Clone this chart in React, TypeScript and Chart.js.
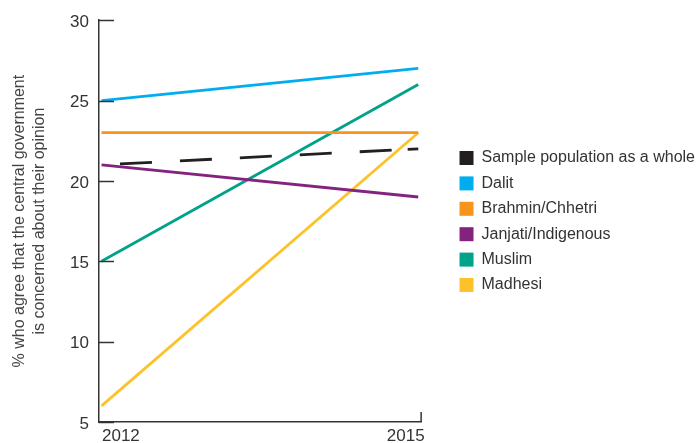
import React, { useEffect, useRef } from "react";
import { Chart, registerables } from "chart.js";

Chart.register(...registerables);

const years = [2012, 2015];
const seriesNames = [
  "Sample population as a whole",
  "Dalit",
  "Brahmin/Chhetri",
  "Janjati/Indigenous",
  "Muslim",
  "Madhesi",
];
const sampleValues = [21, 22];
const dalitValues = [25, 27];
const brahminValues = [23, 23];
const janjatiValues = [21, 19];
const muslimValues = [15, 26];
const madhesiValues = [6, 23];
const yTicks = [5, 10, 15, 20, 25, 30];
const colors = ["#231F20", "#00AEEF", "#F7941D", "#84237F", "#00A28A", "#FDC22A"];
const axisTitle = ["% who agree that the central government", "is concerned about their opinion"];

const FONT = "'Liberation Sans', Arial, sans-serif";
const TEXT = "#333333";

const innerTicks = {
  id: "innerTicks",
  afterLayout(chart: any) {
    const lg = chart.legend;
    if (lg) {
      lg.top -= 8;
      lg.bottom -= 8;
    }
  },
  afterDatasetsDraw(chart: any) {
    const { ctx, chartArea, scales } = chart;
    ctx.save();
    ctx.strokeStyle = TEXT;
    ctx.lineWidth = 1.5;
    for (const v of yTicks) {
      const y = Math.round(scales.y.getPixelForValue(v)) + 0.5;
      ctx.beginPath();
      ctx.moveTo(chartArea.left, y);
      ctx.lineTo(chartArea.left + 15, y);
      ctx.stroke();
    }
    const x = scales.x.right - 0.5;
    ctx.beginPath();
    ctx.moveTo(x, chartArea.bottom);
    ctx.lineTo(x, chartArea.bottom - 10);
    ctx.stroke();
    ctx.restore();
  },
};

export default function App() {
  const ref = useRef<HTMLCanvasElement | null>(null);
  useEffect(() => {
    if (!ref.current) return;
    const allValues = [sampleValues, dalitValues, brahminValues, janjatiValues, muslimValues, madhesiValues];
    const datasets = seriesNames.map((name, i) => ({
      label: name,
      data: years.map((yr, j) => ({ x: yr, y: allValues[i][j] })),
      borderColor: colors[i],
      backgroundColor: colors[i],
      borderWidth: 2.8,
      borderDash: i === 0 ? [0, 18.5, 32, 28, 32, 28, 32, 28, 32, 28, 32, 16, 12, 100] : [],
      pointRadius: 0,
      fill: false,
      tension: 0,
    }));
    const chart = new Chart(ref.current, {
      type: "line",
      data: { datasets },
      plugins: [innerTicks],
      options: {
        animation: false,
        responsive: true,
        maintainAspectRatio: false,
        layout: { padding: { top: 16, left: 0, right: -6, bottom: 0 } },
        plugins: {
          tooltip: { enabled: false },
          legend: {
            position: "right",
            align: "center",
            maxWidth: 320,
            labels: {
              boxWidth: 14,
              boxHeight: 14,
              padding: 9.4,
              color: TEXT,
              font: { family: FONT, size: 16 },
              generateLabels: (c: any) =>
                c.data.datasets.map((d: any, i: number) => ({
                  text: d.label,
                  fillStyle: d.borderColor,
                  strokeStyle: d.borderColor,
                  lineWidth: 0,
                  lineDash: [],
                  hidden: false,
                  datasetIndex: i,
                  fontColor: TEXT,
                })),
            },
          },
        },
        scales: {
          x: {
            type: "linear",
            min: 2011.976,
            max: 2015.032,
            grid: { display: false, drawTicks: false },
            border: { display: true, color: TEXT, width: 1.5 },
            afterBuildTicks: (s: any) => {
              s.ticks = [{ value: s.min }, { value: s.max }];
            },
            afterFit: (s: any) => {
              s.height = 21;
            },
            ticks: {
              align: "inner",
              padding: 4,
              labelOffset: 3,
              maxRotation: 0,
              autoSkip: false,
              color: TEXT,
              font: { family: FONT, size: 17 },
              callback: (_v: any, idx: number) => String(years[idx]),
            },
          },
          y: {
            min: 5,
            max: 30,
            grid: { display: false, drawTicks: false },
            border: { display: true, color: TEXT, width: 1.5 },
            afterBuildTicks: (s: any) => {
              s.ticks = yTicks.map((v) => ({ value: v }));
            },
            afterFit: (s: any) => {
              s.width = 99;
            },
            ticks: {
              padding: 10,
              labelOffset: 2,
              color: TEXT,
              font: { family: FONT, size: 17 },
            },
            title: {
              display: true,
              text: axisTitle,
              color: "#444444",
              font: { family: FONT, size: 16, lineHeight: 1.25 },
              padding: { top: 9.5, bottom: 0 },
            },
          },
          y2: {
            position: "right",
            display: true,
            grid: { display: false, drawTicks: false },
            border: { display: false },
            ticks: { display: false },
            afterFit: (s: any) => {
              s.width = 28.5;
            },
          },
        },
      },
    } as any);
    return () => chart.destroy();
  }, []);
  return (
    <div style={{ position: "absolute", left: 0, top: 0, width: 699, height: 443, background: "#fff" }}>
      <canvas ref={ref} />
    </div>
  );
}
